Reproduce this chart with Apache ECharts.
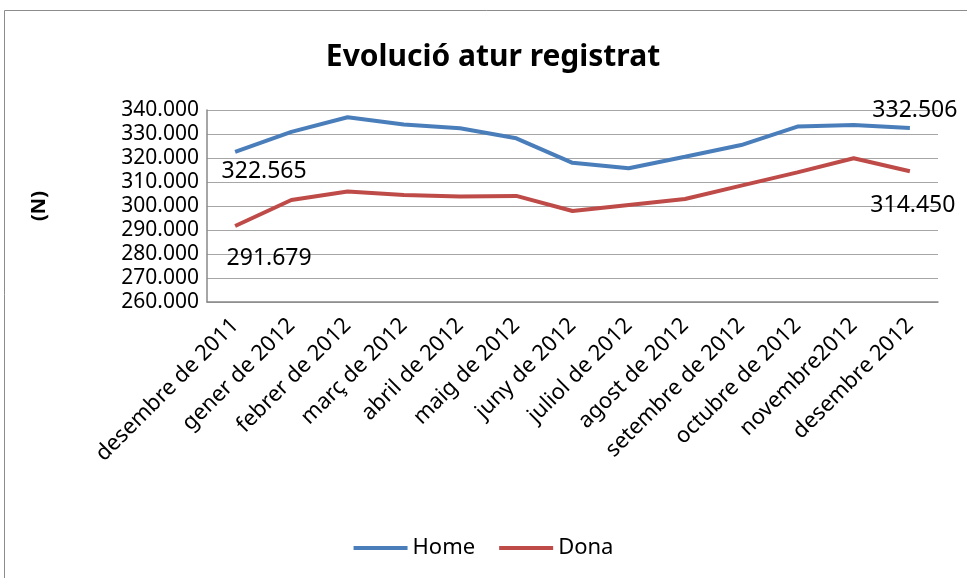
<!DOCTYPE html>
<html><head><meta charset="utf-8">
<script src="https://cdn.jsdelivr.net/npm/echarts@6/dist/echarts.min.js"></script>
<style>html,body{margin:0;padding:0;background:#fff}#c{width:967px;height:578px}</style>
</head><body><div id="c"></div>
<script>
const categories = ["desembre de 2011","gener de 2012","febrer de 2012","març de 2012","abril de 2012","maig de 2012","juny de 2012","juliol de 2012","agost de 2012","setembre de 2012","octubre de 2012","novembre2012","desembre 2012"];
const home = [322565,330900,337000,334000,332400,328200,318000,315700,320500,325400,333100,333700,332506];
const dona = [291679,302500,306000,304600,304000,304200,297900,300400,302900,308500,314000,319900,314450];
const yTicks = {min:260000, max:340000, interval:10000};

const fmt = v => (v/1000).toFixed(3);
const F = "'Noto Sans', sans-serif";

function withLabels(arr, firstOff, lastOff){
  return arr.map((v,i)=>{
    if(i===0 || i===arr.length-1){
      const off = i===0 ? firstOff : lastOff;
      return {value:v, label:{show:true, position:'inside', offset:off, formatter:p=>fmt(p.value), fontFamily:F, fontSize:23, color:'#000'}};
    }
    return v;
  });
}

const chart = echarts.init(document.getElementById('c'));
chart.setOption({
  animation:false,
  backgroundColor:'#fff',
  title:{text:'Evolució atur registrat', left:488, textAlign:'center', top:37, textStyle:{fontFamily:F, fontWeight:'bold', fontSize:30, color:'#000'}},
  graphic:[{type:'rect', shape:{x:4.5,y:10.5,width:1000,height:1000}, style:{fill:'none', stroke:'#8c8c8c', lineWidth:1}, silent:true}],
  legend:{bottom:14, left:'center', itemWidth:54, itemHeight:4, itemGap:24, icon:'rect', textStyle:{fontFamily:F, fontSize:22, color:'#000'}, data:['Home','Dona']},
  grid:{left:207, right:29, top:110, bottom:276},
  xAxis:{type:'category', data:categories, boundaryGap:true,
    axisLine:{lineStyle:{color:'#888', width:1.5}}, axisTick:{show:false},
    axisLabel:{rotate:45, interval:0, fontFamily:F, fontSize:22, color:'#000', margin:20}},
  yAxis:{type:'value', min:yTicks.min, max:yTicks.max, interval:yTicks.interval,
    name:'(N)', nameLocation:'middle', nameRotate:90, nameGap:158,
    nameTextStyle:{fontFamily:F, fontWeight:'bold', fontSize:20, color:'#000'},
    axisLine:{show:true, lineStyle:{color:'#888', width:1.5}}, axisTick:{show:false},
    splitLine:{lineStyle:{color:'#a6a6a6', width:1.2}},
    axisLabel:{fontFamily:F, fontSize:21, color:'#000', margin:8, formatter:v=>fmt(v)}},
  series:[
    {name:'Home', type:'line', data:withLabels(home,[29,20],[5,-18]), showSymbol:true, symbol:'circle', symbolSize:0, lineStyle:{color:'#4a7ebb', width:4}, itemStyle:{color:'#4a7ebb'}},
    {name:'Dona', type:'line', data:withLabels(dona,[34,32],[3,34]), showSymbol:true, symbol:'circle', symbolSize:0, lineStyle:{color:'#be4b48', width:4}, itemStyle:{color:'#be4b48'}}
  ]
});
</script></body></html>
